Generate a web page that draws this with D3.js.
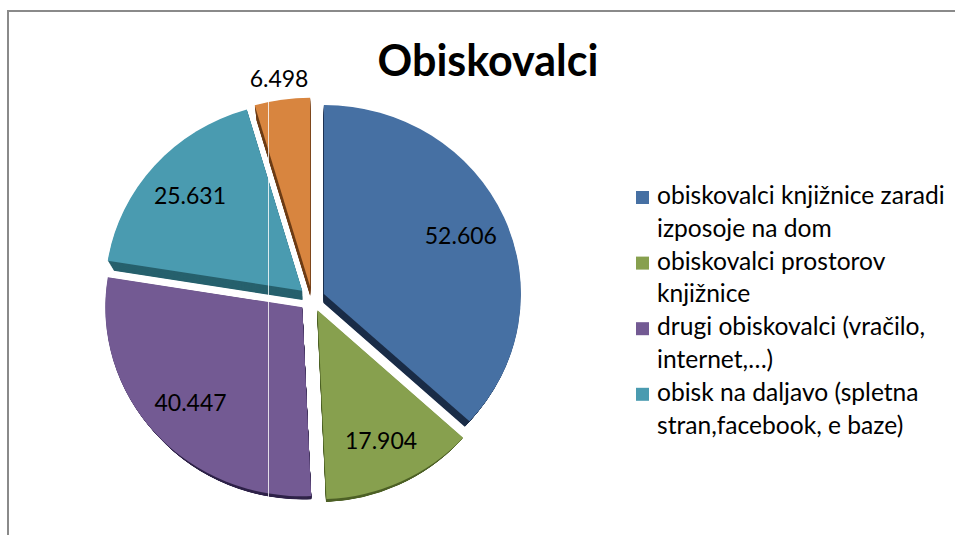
<!DOCTYPE html>
<html><head><meta charset="utf-8">
<script src="https://cdn.jsdelivr.net/npm/d3@7"></script>
<style>html,body{margin:0;padding:0;background:#fff;} svg{display:block}</style>
</head><body>
<svg id="chart" width="955" height="535"></svg>
<script>
// ---- data ----
const title = "Obiskovalci";
const categories = [
  "obiskovalci knjižnice zaradi izposoje na dom",
  "obiskovalci prostorov knjižnice",
  "drugi obiskovalci (vračilo, internet,…)",
  "obisk na daljavo (spletna stran,facebook, e baze)",
  ""
];
const values = [52606, 17904, 40447, 25631, 6498];
const legendLines = [
  ["obiskovalci knjižnice zaradi", "izposoje na dom"],
  ["obiskovalci prostorov", "knjižnice"],
  ["drugi obiskovalci (vračilo,", "internet,…)"],
  ["obisk na daljavo (spletna", "stran,facebook, e baze)"]
];
const topColors  = ["#4670a3", "#87a04e", "#735a93", "#4a9bb0", "#d8853f"];
const sideColors = ["#1c2e48", "#4f6228", "#30244a", "#27616d", "#6e3e17"];

// ---- layout ----
const svg = d3.select("#chart");
const FONT = "Lato, 'Open Sans', sans-serif";
const fmt = d3.formatLocale({decimal: ",", thousands: ".", grouping: [3], currency: ["", ""]}).format(",d");

svg.append("path").attr("d", "M8,535 V11 H955")
  .attr("fill", "none").attr("stroke", "#8a8a8a").attr("stroke-width", 2);

svg.append("text").text(title)
  .attr("x", 488).attr("y", 76).attr("text-anchor", "middle")
  .attr("font-family", FONT).attr("font-weight", "bold").attr("font-size", 43).attr("fill", "#000");

const cx = 312, cy = 299, rx = 197, ry = 189, explode = 13, depth = 9, shrink = 0.03;
const k = ry / rx;
const arcs = d3.pie().sort(null).value(d => d)(values);
const arc = d3.arc().innerRadius(0).outerRadius(rx);
const total = d3.sum(values);

arcs.forEach(a => {
  a.mid = (a.startAngle + a.endAngle) / 2;
  a.ox = explode * Math.sin(a.mid);
  a.oy = -explode * Math.cos(a.mid) * k;
});

const gPie = svg.append("g");
const tf = (a, t) => {
  const s = 1 - shrink * t;
  return `translate(${cx},${cy + depth * t}) scale(${s}) translate(${a.ox},${a.oy}) scale(1,${k})`;
};
// sides
const steps = 18;
for (let i = steps; i >= 1; i--) {
  const t = i / steps;
  gPie.selectAll(null).data(arcs).enter().append("path")
    .attr("d", arc).attr("fill", (d, j) => sideColors[j])
    .attr("transform", d => tf(d, t));
}
// tops
gPie.selectAll(null).data(arcs).enter().append("path")
  .attr("d", arc).attr("fill", (d, j) => topColors[j])
  .attr("transform", d => tf(d, 0));

// thin white rendering line
svg.append("line").attr("x1", 268.5).attr("x2", 268.5).attr("y1", 102).attr("y2", 499)
  .attr("stroke", "#fff").attr("stroke-width", 1).attr("opacity", 0.8);

// labels
svg.append("g").selectAll("text").data(arcs).enter().append("text")
  .text(d => fmt(d.data))
  .attr("x", d => { const r = d.data / total < 0.06 ? 1.11 : 0.76; return cx + d.ox + r * rx * Math.sin(d.mid); })
  .attr("y", d => { const r = d.data / total < 0.06 ? 1.11 : 0.76; return cy + d.oy - r * ry * Math.cos(d.mid); })
  .attr("dy", "0.36em").attr("text-anchor", "middle")
  .attr("font-family", FONT).attr("font-size", 23).attr("fill", "#000");

// legend
const lg = svg.append("g");
const lineH = 32.8, base0 = 204;
let line = 0;
legendLines.forEach((lines, i) => {
  lg.append("rect").attr("x", 636).attr("y", base0 + line * lineH - 13).attr("width", 13).attr("height", 13)
    .attr("fill", topColors[i]);
  lines.forEach(s => {
    lg.append("text").text(s).attr("x", 657).attr("y", base0 + line * lineH)
      .attr("font-family", FONT).attr("font-size", 24.6).attr("fill", "#000");
    line++;
  });
});
</script>
</body></html>
